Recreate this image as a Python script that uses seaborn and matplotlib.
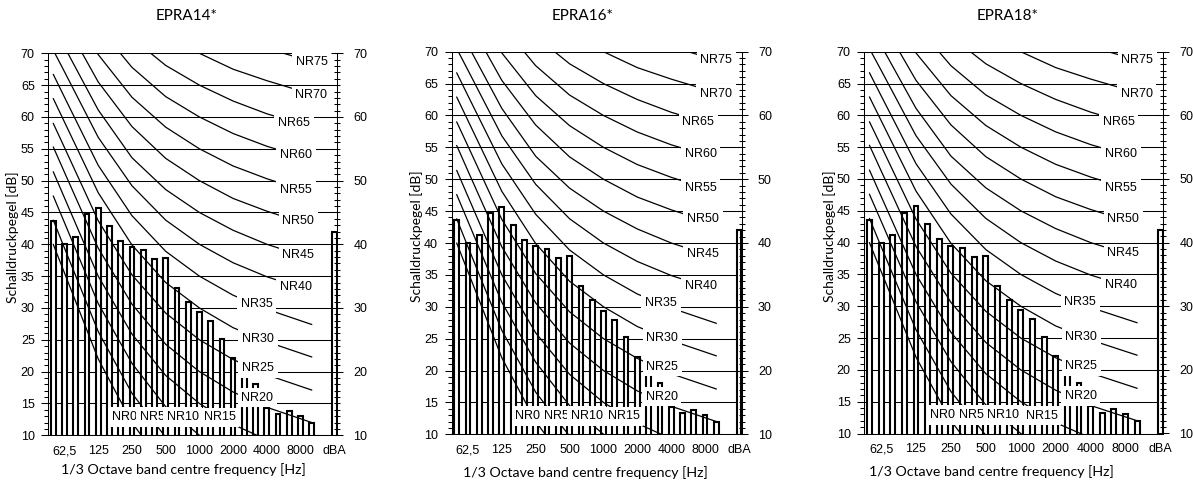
import matplotlib
matplotlib.use("Agg")
import matplotlib.pyplot as plt
from matplotlib.ticker import MultipleLocator
import pandas as pd
import seaborn as sns

# 1/3-octave band centres (Hz), a blank spacer slot and the overall A-weighted level
bands = ["50", "63", "80", "100", "125", "160", "200", "250", "315", "400", "500", "630",
         "800", "1000", "1250", "1600", "2000", "2500", "3150", "4000", "5000", "6300",
         "8000", "10000"]
spacer = " "
total = "dBA"
categories = bands + [spacer, total]

# Axis labelling under every third band
tick_bands = ["63", "125", "250", "500", "1000", "2000", "4000", "8000", "dBA"]
tick_labels = ["62,5", "125", "250", "500", "1000", "2000", "4000", "8000", "dBA"]

titles = ["EPRA14*", "EPRA16*", "EPRA18*"]

# Measured sound pressure levels per band [dB] and overall level [dB(A)]
epra14 = [43.6, 40.0, 41.2, 44.7, 45.7, 42.9, 40.5, 39.5, 39.1, 37.7, 37.9, 33.2,
          31.0, 29.4, 28.0, 25.2, 22.2, 19.8, 18.0, 14.3, 13.3, 13.8, 13.1, 11.9]
epra14_dba = 42.0
epra16 = [43.6, 40.0, 41.2, 44.7, 45.7, 42.9, 40.5, 39.5, 39.1, 37.7, 37.9, 33.2,
          31.0, 29.4, 28.0, 25.2, 22.2, 19.8, 18.0, 14.3, 13.3, 13.8, 13.1, 11.9]
epra16_dba = 42.0
epra18 = [43.6, 40.0, 41.2, 44.7, 45.7, 42.9, 40.5, 39.5, 39.1, 37.7, 37.9, 33.2,
          31.0, 29.4, 28.0, 25.2, 22.2, 19.8, 18.0, 14.3, 13.3, 13.8, 13.1, 11.9]
epra18_dba = 42.0
series = [(epra14, epra14_dba), (epra16, epra16_dba), (epra18, epra18_dba)]

# Noise rating curves: 50 Hz, octave bands 63 Hz - 8 kHz, 10 kHz
nr_bands = ["50", "63", "125", "250", "500", "1000", "2000", "4000", "8000", "10000"]
nr_levels = [0, 5, 10, 15, 20, 25, 30, 35, 40, 45, 50, 55, 60, 65, 70, 75]
nr0 = [40.0, 35.5, 22.0, 12.0, 4.8, 0.0, -3.5, -6.1, -8.0, -8.6]
nr5 = [43.8, 39.4, 26.3, 16.6, 9.7, 5.0, 1.6, -1.0, -2.8, -3.4]
nr10 = [47.6, 43.4, 30.7, 21.3, 14.5, 10.0, 6.6, 4.2, 2.3, 1.7]
nr15 = [51.4, 47.3, 35.0, 25.9, 19.4, 15.0, 11.7, 9.3, 7.4, 6.8]
nr20 = [55.3, 51.3, 39.4, 30.6, 24.3, 20.0, 16.8, 14.4, 12.6, 12.0]
nr25 = [59.0, 55.2, 43.7, 35.2, 29.2, 25.0, 21.9, 19.5, 17.7, 17.1]
nr30 = [62.9, 59.2, 48.1, 39.9, 34.0, 30.0, 26.9, 24.7, 22.9, 22.3]
nr35 = [66.7, 63.1, 52.4, 44.5, 38.9, 35.0, 32.0, 29.8, 28.0, 27.4]
nr40 = [70.5, 67.1, 56.8, 49.2, 43.8, 40.0, 37.1, 34.9, 33.2, 32.6]
nr45 = [74.3, 71.0, 61.1, 53.6, 48.6, 45.0, 42.2, 40.0, 38.3, 37.7]
nr50 = [78.2, 75.0, 65.5, 58.5, 53.5, 50.0, 47.2, 45.2, 43.5, 42.9]
nr55 = [81.9, 78.9, 69.8, 63.1, 58.4, 55.0, 52.3, 50.3, 48.6, 48.0]
nr60 = [85.8, 82.9, 74.2, 67.8, 63.2, 60.0, 57.4, 55.4, 53.8, 53.3]
nr65 = [89.6, 86.8, 78.5, 72.4, 68.1, 65.0, 62.5, 60.5, 58.9, 58.4]
nr70 = [93.4, 90.8, 82.9, 77.1, 73.0, 70.0, 67.5, 65.7, 64.1, 63.6]
nr75 = [97.2, 94.7, 87.2, 81.7, 77.9, 75.0, 72.6, 70.8, 69.2, 68.7]
nr_curves = [nr0, nr5, nr10, nr15, nr20, nr25, nr30, nr35, nr40, nr45, nr50, nr55,
             nr60, nr65, nr70, nr75]

# Where each curve name sits (category position, dB)
nr_label_xy = [(6.3, 12.9), (8.8, 12.9), (11.5, 12.9), (14.8, 12.8),
               (18.15, 15.9), (18.2, 20.6), (18.2, 25.1), (18.1, 30.6),
               (21.6, 33.3), (21.8, 38.3), (21.8, 43.7), (21.6, 48.6),
               (21.6, 54.0), (21.4, 59.0), (22.95, 63.4), (23.0, 68.7)]

sns.set_theme(style="white")
plt.rcParams["font.family"] = ["Liberation Sans", "DejaVu Sans"]
for key in ("text.color", "axes.labelcolor", "xtick.color", "ytick.color", "axes.edgecolor"):
    plt.rcParams[key] = "black"
label_font = ["Lato", "DejaVu Sans"]

W, H = 1193, 483
fig = plt.figure(figsize=(W / 100, H / 100), dpi=100)

# panel frames in pixels: left, right, top, bottom
frames = [(48.3, 337.0, 53.3, 435.3), (451.7, 741.7, 51.7, 434.3), (864.3, 1163.3, 51.7, 433.5)]
title_xy = [(186.7, 15.5), (582.5, 16.0), (1008.0, 15.5)]
xlabel_xy = [(183.3, 470.0), (585.8, 473.0), (991.0, 472.0)]
ylabel_xy = [(13.0, 237.5), (417.0, 236.5), (829.5, 236.5)]

nr_rows = []
for lvl, curve in zip(nr_levels, nr_curves):
    for band, val in zip(nr_bands, curve):
        nr_rows.append({"curve": f"NR{lvl}", "pos": categories.index(band), "level": val})
nr_df = pd.DataFrame(nr_rows)

for i, (frame, (values, dba)) in enumerate(zip(frames, series)):
    left, right, top, bottom = frame
    ax = fig.add_axes([left / W, 1 - bottom / H, (right - left) / W, (bottom - top) / H])

    bar_df = pd.DataFrame({"band": bands + [total], "level": values + [dba]})
    sns.barplot(data=bar_df, x="band", y="level", order=categories, color="white",
                saturation=1, edgecolor="black", linewidth=1.5, width=0.42,
                errorbar=None, ax=ax, zorder=2)
    sns.lineplot(data=nr_df, x="pos", y="level", units="curve", estimator=None,
                 color="black", linewidth=0.9, legend=False, ax=ax, zorder=3)

    ax.set_xlim(-0.44, 25.24)
    ax.set_ylim(10, 70)
    ax.set_xticks([categories.index(b) for b in tick_bands])
    ax.set_xticklabels(tick_labels)
    ax.yaxis.set_major_locator(MultipleLocator(5))
    ax.yaxis.set_minor_locator(MultipleLocator(1))
    ax.tick_params(axis="x", length=0, pad=7, labelsize=9)
    ax.tick_params(axis="y", which="major", direction="out", length=5, width=0.75,
                   pad=4.75, labelsize=9, left=True)
    ax.tick_params(axis="y", which="minor", direction="out", length=3, width=0.75, left=True)
    ax.yaxis.grid(True, which="major", color="black", linewidth=0.75)
    ax.set_axisbelow(True)
    for side in ("top", "right"):
        ax.spines[side].set_visible(False)
    for side in ("left", "bottom"):
        ax.spines[side].set_linewidth(0.75)

    for (lx, ly), lvl in zip(nr_label_xy, nr_levels):
        ax.text(lx, ly, f"NR{lvl}", fontsize=9, ha="center", va="center", zorder=6,
                bbox=dict(boxstyle="square,pad=0.3", fc="white", ec="none"))

    ax2 = ax.twinx()
    ax2.set_ylim(10, 70)
    ax2.yaxis.set_major_locator(MultipleLocator(10))
    ax2.yaxis.set_minor_locator(MultipleLocator(1))
    ax2.tick_params(axis="y", which="major", direction="inout", length=8, width=0.75,
                    pad=7.7, labelsize=9)
    ax2.tick_params(axis="y", which="minor", direction="inout", length=4, width=0.75)
    for side in ("top", "left", "bottom"):
        ax2.spines[side].set_visible(False)
    ax2.spines["right"].set_linewidth(0.75)

    ax.set_xlabel("1/3 Octave band centre frequency [Hz]", fontsize=10.2, family=label_font)
    ax.xaxis.label.set_va("center")
    ax.xaxis.set_label_coords(xlabel_xy[i][0] / W, 1 - xlabel_xy[i][1] / H,
                              transform=fig.transFigure)
    ax.set_ylabel("Schalldruckpegel [dB]", fontsize=10, family=label_font)
    ax.yaxis.label.set_va("center")
    ax.yaxis.set_label_coords(ylabel_xy[i][0] / W, 1 - ylabel_xy[i][1] / H,
                              transform=fig.transFigure)
    fig.text(title_xy[i][0] / W, 1 - title_xy[i][1] / H, titles[i], fontsize=11,
             family=label_font, ha="center", va="center")

fig.savefig("out.png", dpi=100, facecolor="white")
